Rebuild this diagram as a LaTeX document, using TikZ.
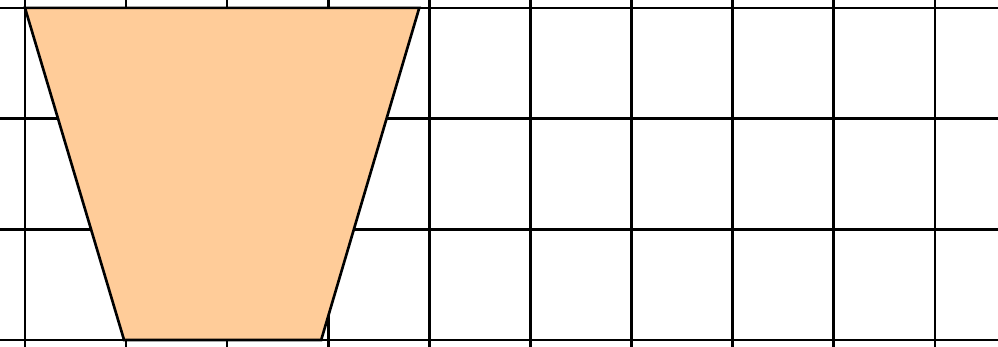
\documentclass[tikz,border=0pt]{standalone}
\usepackage{tikz}
\usepackage{color}
\definecolor{peach}{RGB}{255,204,153}

\begin{document}
\begin{tikzpicture}[x=1.011cm,y=1.107cm,line width=0.75pt]
\useasboundingbox (-0.247,-0.063) rectangle (9.624,3.071);
\clip (-0.247,-0.063) rectangle (9.624,3.071);
\foreach \i in {0,...,9} \draw (\i,-1) -- (\i,4);
\foreach \j in {0,...,3} \draw (-1,\j) -- (10,\j);
\draw[fill=peach] (0,3) -- (3.9,3) -- (2.93,0) -- (0.98,0) -- cycle;
\end{tikzpicture}
\end{document}
